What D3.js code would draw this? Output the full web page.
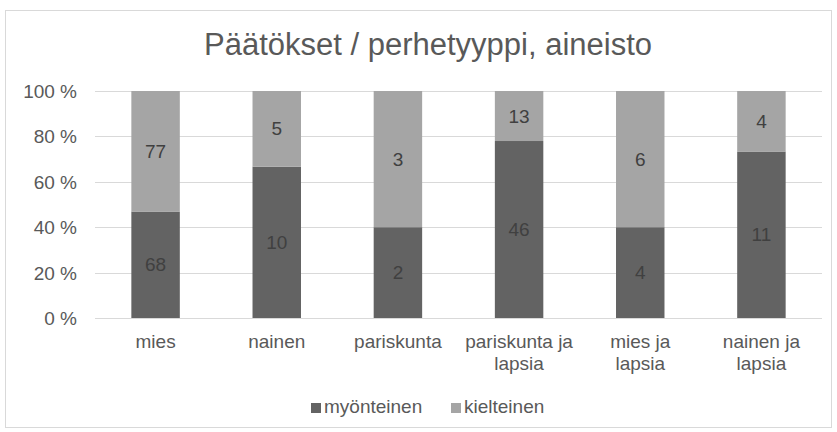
<!DOCTYPE html>
<html>
<head>
<meta charset="utf-8">
<script src="https://cdn.jsdelivr.net/npm/d3@7"></script>
<style>
  body { margin: 0; background: #fff; }
  text { font-family: "Liberation Sans", Arial, sans-serif; }
</style>
</head>
<body>
<svg width="837" height="432"></svg>
<script>
// data
var categories = ["mies", "nainen", "pariskunta", "pariskunta ja lapsia", "mies ja lapsia", "nainen ja lapsia"];
var seriesNames = ["myönteinen", "kielteinen"];
var myonteinen = [68, 10, 2, 46, 4, 11];
var kielteinen = [77, 5, 3, 13, 6, 4];
var yTicks = [0, 0.2, 0.4, 0.6, 0.8, 1];
var colors = ["#636363", "#a5a5a5"];

var svg = d3.select("svg");
var margin = {left: 95, right: 15, top: 91, bottom: 114};
var W = 837, H = 432;
var fs = 19;

// chart border
svg.append("rect")
    .attr("x", 5.5).attr("y", 10.5)
    .attr("width", 826).attr("height", 417)
    .attr("fill", "#fff")
    .attr("stroke", "#d9d9d9");

svg.append("text")
    .attr("x", 428).attr("y", 55)
    .attr("text-anchor", "middle")
    .attr("font-size", 31)
    .attr("fill", "#595959")
    .text("Päätökset / perhetyyppi, aineisto");

var x = d3.scaleBand()
    .domain(categories)
    .range([margin.left, W - margin.right])
    .paddingInner(0.6)
    .paddingOuter(0.3);

var y = d3.scaleLinear()
    .domain([0, 1])
    .range([H - margin.bottom, margin.top]);

// gridlines
svg.append("g").selectAll("line")
    .data(yTicks)
    .enter().append("line")
    .attr("x1", margin.left).attr("x2", W - margin.right)
    .attr("y1", function(d) { return Math.round(y(d)) + 0.5; })
    .attr("y2", function(d) { return Math.round(y(d)) + 0.5; })
    .attr("stroke", "#d9d9d9")
    .attr("stroke-width", 1);

// y axis labels
var yAxis = d3.axisLeft(y)
    .tickValues(yTicks)
    .tickSize(0)
    .tickPadding(0)
    .tickFormat(function(d) { return Math.round(d * 100) + " %"; });

var yg = svg.append("g")
    .attr("transform", "translate(77,0)")
    .call(yAxis);
yg.select(".domain").remove();
yg.selectAll("text")
    .attr("font-size", fs)
    .attr("dy", "0.34em")
    .attr("fill", "#595959")
    .attr("font-family", "Liberation Sans, Arial, sans-serif");

// stacked data
var rows = categories.map(function(c, i) {
    var t = myonteinen[i] + kielteinen[i];
    return {cat: c, "myönteinen": myonteinen[i] / t, "kielteinen": kielteinen[i] / t,
            raw: [myonteinen[i], kielteinen[i]]};
});
var stack = d3.stack().keys(seriesNames)(rows);

var layers = svg.append("g").selectAll("g")
    .data(stack)
    .enter().append("g")
    .attr("fill", function(d, i) { return colors[i]; });

layers.selectAll("rect")
    .data(function(d) { return d; })
    .enter().append("rect")
    .attr("x", function(d) { return x(d.data.cat); })
    .attr("width", x.bandwidth())
    .attr("y", function(d) { return y(d[1]); })
    .attr("height", function(d) { return y(d[0]) - y(d[1]); });

// value labels
stack.forEach(function(layer, li) {
    svg.append("g").selectAll("text")
        .data(layer)
        .enter().append("text")
        .attr("x", function(d) { return x(d.data.cat) + x.bandwidth() / 2; })
        .attr("y", function(d) { return (y(d[0]) + y(d[1])) / 2; })
        .attr("dy", "0.35em")
        .attr("text-anchor", "middle")
        .attr("font-size", fs)
        .attr("fill", "#404040")
        .text(function(d) { return d.data.raw[li]; });
});

// category labels (break after "ja")
var xg = svg.append("g");
categories.forEach(function(c) {
    var lines = c.indexOf(" ja ") >= 0 ? [c.split(" ja ")[0] + " ja", c.split(" ja ")[1]] : [c];
    var t = xg.append("text")
        .attr("x", x(c) + x.bandwidth() / 2)
        .attr("y", 348)
        .attr("text-anchor", "middle")
        .attr("font-size", fs)
        .attr("fill", "#595959");
    lines.forEach(function(l, k) {
        t.append("tspan")
            .attr("x", x(c) + x.bandwidth() / 2)
            .attr("dy", k === 0 ? 0 : 22)
            .text(l);
    });
});

// legend
var legend = svg.append("g");
var lx = [311, 451];
seriesNames.forEach(function(s, i) {
    legend.append("rect")
        .attr("x", lx[i]).attr("y", 403)
        .attr("width", 10).attr("height", 10)
        .attr("fill", colors[i]);
    legend.append("text")
        .attr("x", lx[i] + 13).attr("y", 413)
        .attr("font-size", fs)
        .attr("fill", "#595959")
        .text(s);
});
</script>
</body>
</html>
